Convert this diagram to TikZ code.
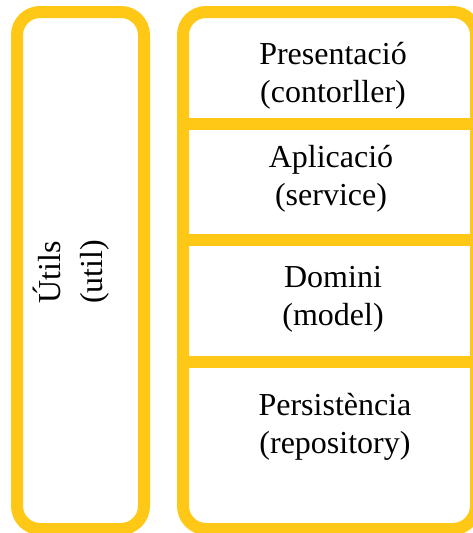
\documentclass[tikz,border=0pt]{standalone}
\usepackage{fontspec}
\setmainfont{Liberation Serif}
\definecolor{gold}{RGB}{255,200,22}
\begin{document}
\begin{tikzpicture}[x=1pt,y=-1pt,
  panel/.style={draw=gold, line width=12pt, rounded corners=23pt, rectangle, inner sep=0pt, fill=white},
  divider/.style={draw=gold, line width=12pt},
  label/.style={font=\fontsize{32}{38}\selectfont, align=center, inner sep=0pt, text=black}]
\useasboundingbox (0,0) rectangle (473,533);
\clip (0,0) rectangle (473,533);
\node[panel, minimum width=127pt, minimum height=517pt] (left) at (80.5,270.5) {};
\node[panel, minimum width=293pt, minimum height=517pt] (right) at (329.5,270.5) {};
\coordinate (d1) at (0,124);
\coordinate (d2) at (0,239.5);
\coordinate (d3) at (0,362);
\draw[divider] (right.west |- d1) -- (right.east |- d1);
\draw[divider] (right.west |- d2) -- (right.east |- d2);
\draw[divider] (right.west |- d3) -- (right.east |- d3);
\node[label, rotate=90, font=\fontsize{32}{42}\selectfont] (util) at (71,272) {Útils\\(util)};
\node[label] (pres) at (333,75.5) {Presentació\\(contorller)};
\node[label] (apl) at (331,179) {Aplicació\\(service)};
\node[label] (dom) at (333,299) {Domini\\(model)};
\node[label] (per) at (335,427) {Persistència\\(repository)};
\end{tikzpicture}
\end{document}
